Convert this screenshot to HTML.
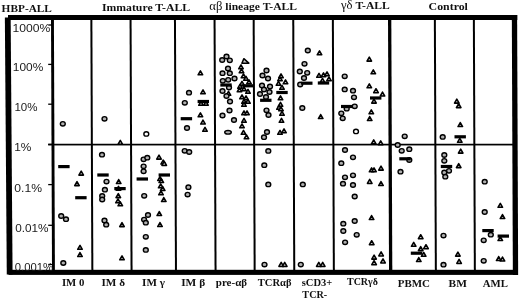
<!DOCTYPE html>
<html><head><meta charset="utf-8"><title>T-ALL chart</title>
<style>
html,body{margin:0;padding:0;background:#fff;}
body{width:520px;height:300px;overflow:hidden;}
svg{display:block;}
.hd{font-family:"Liberation Serif",serif;font-weight:bold;font-size:11px;fill:#111;}
.gr{font-weight:normal;font-size:12px;}
.yl{font-family:"Liberation Sans",sans-serif;font-size:10px;fill:#1a1a1a;}
.bl{font-family:"Liberation Serif",serif;font-weight:bold;font-size:10.3px;fill:#111;}
.c{fill:#b0b0b0;stroke:#000;stroke-width:1.4;}
.w{fill:#fff;stroke:#000;stroke-width:1.4;}
.t{fill:#c8c8c8;stroke:#000;stroke-width:1.55;stroke-linejoin:round;}
</style></head>
<body>
<svg width="520" height="300" viewBox="0 0 520 300">
<rect width="520" height="300" fill="#fff"/>
<g style="will-change:transform">
<rect x="8" y="15" width="509.3" height="5" fill="#000"/>
<rect x="8.5" y="269.8" width="509.3" height="5.1" fill="#000"/>
<polygon points="4.86,17.6 10.66,17.6 12.58,274.6 6.78,274.6" fill="#000"/>
<polygon points="511.82,15 517.12,15 518.16,274.9 512.86,274.9" fill="#000"/>
<polygon points="51.01,20 53.91,20 54.91,270 52.01,270" fill="#000"/>
<polygon points="90.36,20 92.36,20 93.36,270 91.36,270" fill="#000"/>
<polygon points="129.56,20 131.56,20 132.56,270 130.56,270" fill="#000"/>
<polygon points="173.96,20 175.96,20 176.96,270 174.96,270" fill="#000"/>
<polygon points="213.56,20 215.56,20 216.56,270 214.56,270" fill="#000"/>
<polygon points="252.66,20 254.66,20 255.66,270 253.66,270" fill="#000"/>
<polygon points="292.26,20 294.26,20 295.26,270 293.26,270" fill="#000"/>
<polygon points="331.86,20 333.86,20 334.86,270 332.86,270" fill="#000"/>
<polygon points="433.86,20 435.86,20 436.86,270 434.86,270" fill="#000"/>
<polygon points="472.86,20 474.86,20 475.86,270 473.86,270" fill="#000"/>
<polygon points="388.01,20 391.31,20 392.31,270 389.01,270" fill="#000"/>
<rect x="48.2" y="143.75" width="464.8" height="1.7" fill="#000"/>
<rect x="48.2" y="24.35" width="3.8" height="1.3" fill="#000"/>
<rect x="48.2" y="63.75" width="3.8" height="1.3" fill="#000"/>
<rect x="48.2" y="103.55" width="3.8" height="1.3" fill="#000"/>
<rect x="48.2" y="143.75" width="3.8" height="1.3" fill="#000"/>
<rect x="48.2" y="183.95" width="3.8" height="1.3" fill="#000"/>
<rect x="48.2" y="224.65" width="3.8" height="1.3" fill="#000"/>
<rect x="48.2" y="263.85" width="3.8" height="1.3" fill="#000"/>
<text x="1.63" y="11.7" class="hd" textLength="50.29" lengthAdjust="spacingAndGlyphs">HBP-ALL</text>
<text x="101.95" y="11" class="hd" textLength="88.19" lengthAdjust="spacingAndGlyphs">Immature T-ALL</text>
<text x="209.27" y="10.1" class="hd" textLength="87.71" lengthAdjust="spacingAndGlyphs"><tspan class="gr">&#945;&#946;</tspan> lineage T-ALL</text>
<text x="340.94" y="9.3" class="hd" textLength="48.87" lengthAdjust="spacingAndGlyphs"><tspan class="gr">&#947;&#948;</tspan> T-ALL</text>
<text x="428.64" y="9.5" class="hd" textLength="39.29" lengthAdjust="spacingAndGlyphs">Control</text>
<text x="12.62" y="31.7" class="yl" textLength="37.78" lengthAdjust="spacingAndGlyphs">1000%</text>
<text x="12.87" y="71.2" class="yl" textLength="30.37" lengthAdjust="spacingAndGlyphs">100%</text>
<text x="14.44" y="110.8" class="yl" textLength="23.06" lengthAdjust="spacingAndGlyphs">10%</text>
<text x="14.18" y="151.3" class="yl" textLength="17.15" lengthAdjust="spacingAndGlyphs">1%</text>
<text x="14.31" y="191.7" class="yl" textLength="27.68" lengthAdjust="spacingAndGlyphs">0.1%</text>
<text x="15.26" y="232.1" class="yl" textLength="33.28" lengthAdjust="spacingAndGlyphs">0.01%</text>
<text x="14.8" y="271.1" class="yl" textLength="38.28" lengthAdjust="spacingAndGlyphs">0.001%</text>
<text x="61.9" y="286.1" class="bl" textLength="22.49" lengthAdjust="spacingAndGlyphs">IM 0</text>
<text x="101.42" y="286" class="bl" textLength="23.59" lengthAdjust="spacingAndGlyphs">IM &#948;</text>
<text x="142.12" y="285.8" class="bl" textLength="22.81" lengthAdjust="spacingAndGlyphs">IM &#947;</text>
<text x="181.19" y="285.8" class="bl" textLength="23.99" lengthAdjust="spacingAndGlyphs">IM &#946;</text>
<text x="215.81" y="285.8" class="bl" textLength="31.3" lengthAdjust="spacingAndGlyphs">pre-&#945;&#946;</text>
<text x="257.82" y="285.8" class="bl" textLength="33.7" lengthAdjust="spacingAndGlyphs">TCR&#945;&#946;</text>
<text x="301.75" y="285.7" class="bl" textLength="30.52" lengthAdjust="spacingAndGlyphs">sCD3+</text>
<text x="302.37" y="297.8" class="bl" textLength="24.83" lengthAdjust="spacingAndGlyphs">TCR-</text>
<text x="347" y="285.3" class="bl" textLength="30.89" lengthAdjust="spacingAndGlyphs">TCR&#947;&#948;</text>
<text x="397.72" y="286.7" class="bl" textLength="32.33" lengthAdjust="spacingAndGlyphs">PBMC</text>
<text x="448.57" y="286.7" class="bl" textLength="18.33" lengthAdjust="spacingAndGlyphs">BM</text>
<text x="482.69" y="286.7" class="bl" textLength="25.18" lengthAdjust="spacingAndGlyphs">AML</text>
<polygon points="81.2,171.12 78.9,175.12 83.5,175.12" class="t"/>
<polygon points="77,181.62 74.7,185.62 79.3,185.62" class="t"/>
<polygon points="80,245.32 77.7,249.32 82.3,249.32" class="t"/>
<polygon points="80,252.52 77.7,256.52 82.3,256.52" class="t"/>
<polygon points="120.3,140.32 118,144.32 122.6,144.32" class="t"/>
<polygon points="118.7,179.52 116.4,183.52 121,183.52" class="t"/>
<polygon points="118.5,186.32 116.2,190.32 120.8,190.32" class="t"/>
<polygon points="118.3,193.62 116,197.62 120.6,197.62" class="t"/>
<polygon points="118,198.82 115.7,202.82 120.3,202.82" class="t"/>
<polygon points="120.3,201.82 118,205.82 122.6,205.82" class="t"/>
<polygon points="122,222.62 119.7,226.62 124.3,226.62" class="t"/>
<polygon points="122,255.82 119.7,259.82 124.3,259.82" class="t"/>
<polygon points="159,155.12 156.7,159.12 161.3,159.12" class="t"/>
<polygon points="163.2,160.02 160.9,164.02 165.5,164.02" class="t"/>
<polygon points="164.2,161.42 161.9,165.42 166.5,165.42" class="t"/>
<polygon points="160,176.52 157.7,180.52 162.3,180.52" class="t"/>
<polygon points="161.3,178.52 159,182.52 163.6,182.52" class="t"/>
<polygon points="160.7,183.82 158.4,187.82 163,187.82" class="t"/>
<polygon points="162.7,186.52 160.4,190.52 165,190.52" class="t"/>
<polygon points="161,190.82 158.7,194.82 163.3,194.82" class="t"/>
<polygon points="163.8,197.52 161.5,201.52 166.1,201.52" class="t"/>
<polygon points="159.3,211.52 157,215.52 161.6,215.52" class="t"/>
<polygon points="160,222.52 157.7,226.52 162.3,226.52" class="t"/>
<polygon points="200.4,70.82 198.1,74.82 202.7,74.82" class="t"/>
<polygon points="203,89.82 200.7,93.82 205.3,93.82" class="t"/>
<polygon points="201,101.32 198.7,105.32 203.3,105.32" class="t"/>
<polygon points="206,101.32 203.7,105.32 208.3,105.32" class="t"/>
<polygon points="200.4,112.82 198.1,116.82 202.7,116.82" class="t"/>
<polygon points="203,120.02 200.7,124.02 205.3,124.02" class="t"/>
<polygon points="205,127.32 202.7,131.32 207.3,131.32" class="t"/>
<polygon points="241,64.82 238.7,68.82 243.3,68.82" class="t"/>
<polygon points="241.5,68.82 239.2,72.82 243.8,72.82" class="t"/>
<polygon points="243.5,73.82 241.2,77.82 245.8,77.82" class="t"/>
<polygon points="246,76.32 243.7,80.32 248.3,80.32" class="t"/>
<polygon points="249,79.82 246.7,83.82 251.3,83.82" class="t"/>
<polygon points="242,81.32 239.7,85.32 244.3,85.32" class="t"/>
<polygon points="240,84.32 237.7,88.32 242.3,88.32" class="t"/>
<polygon points="239.5,87.82 237.2,91.82 241.8,91.82" class="t"/>
<polygon points="244,86.82 241.7,90.82 246.3,90.82" class="t"/>
<polygon points="248,89.32 245.7,93.32 250.3,93.32" class="t"/>
<polygon points="242,94.82 239.7,98.82 244.3,98.82" class="t"/>
<polygon points="246,95.82 243.7,99.82 248.3,99.82" class="t"/>
<polygon points="244,99.32 241.7,103.32 246.3,103.32" class="t"/>
<polygon points="248,99.32 245.7,103.32 250.3,103.32" class="t"/>
<polygon points="244,102.32 241.7,106.32 246.3,106.32" class="t"/>
<polygon points="244,110.82 241.7,114.82 246.3,114.82" class="t"/>
<polygon points="247,110.82 244.7,114.82 249.3,114.82" class="t"/>
<polygon points="244,118.32 241.7,122.32 246.3,122.32" class="t"/>
<polygon points="242,123.82 239.7,127.82 244.3,127.82" class="t"/>
<polygon points="243.5,130.32 241.2,134.32 245.8,134.32" class="t"/>
<polygon points="246.5,134.82 244.2,138.82 248.8,138.82" class="t"/>
<polygon points="228.5,91.32 226.2,95.32 230.8,95.32" class="t"/>
<polygon points="281,73.82 278.7,77.82 283.3,77.82" class="t"/>
<polygon points="280,76.82 277.7,80.82 282.3,80.82" class="t"/>
<polygon points="285.5,79.82 283.2,83.82 287.8,83.82" class="t"/>
<polygon points="280.5,102.32 278.2,106.32 282.8,106.32" class="t"/>
<polygon points="278.5,81.32 276.2,85.32 280.8,85.32" class="t"/>
<polygon points="282,85.32 279.7,89.32 284.3,89.32" class="t"/>
<polygon points="280.5,95.82 278.2,99.82 282.8,99.82" class="t"/>
<polygon points="279,105.32 276.7,109.32 281.3,109.32" class="t"/>
<polygon points="281,106.82 278.7,110.82 283.3,110.82" class="t"/>
<polygon points="282,111.32 279.7,115.32 284.3,115.32" class="t"/>
<polygon points="281.5,118.32 279.2,122.32 283.8,122.32" class="t"/>
<polygon points="284,128.82 281.7,132.82 286.3,132.82" class="t"/>
<polygon points="280,130.32 277.7,134.32 282.3,134.32" class="t"/>
<polygon points="281.2,262.42 278.9,266.42 283.5,266.42" class="t"/>
<polygon points="284.7,262.42 282.4,266.42 287,266.42" class="t"/>
<polygon points="319.5,50.82 317.2,54.82 321.8,54.82" class="t"/>
<polygon points="319,73.32 316.7,77.32 321.3,77.32" class="t"/>
<polygon points="323.5,72.82 321.2,76.82 325.8,76.82" class="t"/>
<polygon points="327,71.82 324.7,75.82 329.3,75.82" class="t"/>
<polygon points="329,76.82 326.7,80.82 331.3,80.82" class="t"/>
<polygon points="322.5,78.32 320.2,82.32 324.8,82.32" class="t"/>
<polygon points="320.7,114.52 318.4,118.52 323,118.52" class="t"/>
<polygon points="318.8,262.42 316.5,266.42 321.1,266.42" class="t"/>
<polygon points="322.7,262.42 320.4,266.42 325,266.42" class="t"/>
<polygon points="369.3,57.12 367,61.12 371.6,61.12" class="t"/>
<polygon points="373.3,69.82 371,73.82 375.6,73.82" class="t"/>
<polygon points="369.3,83.82 367,87.82 371.6,87.82" class="t"/>
<polygon points="376,88.72 373.7,92.72 378.3,92.72" class="t"/>
<polygon points="382.5,92.02 380.2,96.02 384.8,96.02" class="t"/>
<polygon points="374,99.12 371.7,103.12 376.3,103.12" class="t"/>
<polygon points="371.3,109.82 369,113.82 373.6,113.82" class="t"/>
<polygon points="369.7,116.52 367.4,120.52 372,120.52" class="t"/>
<polygon points="373.7,139.82 371.4,143.82 376,143.82" class="t"/>
<polygon points="380.7,140.82 378.4,144.82 383,144.82" class="t"/>
<polygon points="371.6,167.82 369.3,171.82 373.9,171.82" class="t"/>
<polygon points="374,167.82 371.7,171.82 376.3,171.82" class="t"/>
<polygon points="381,166.12 378.7,170.12 383.3,170.12" class="t"/>
<polygon points="369.7,179.42 367.4,183.42 372,183.42" class="t"/>
<polygon points="381,181.52 378.7,185.52 383.3,185.52" class="t"/>
<polygon points="371.6,215.52 369.3,219.52 373.9,219.52" class="t"/>
<polygon points="371.7,240.72 369.4,244.72 374,244.72" class="t"/>
<polygon points="381.1,251.92 378.8,255.92 383.4,255.92" class="t"/>
<polygon points="374.1,255.12 371.8,259.12 376.4,259.12" class="t"/>
<polygon points="383,258.92 380.7,262.92 385.3,262.92" class="t"/>
<polygon points="374.1,260.72 371.8,264.72 376.4,264.72" class="t"/>
<polygon points="420.7,234.72 418.4,238.72 423,238.72" class="t"/>
<polygon points="413.7,242.32 411.4,246.32 416,246.32" class="t"/>
<polygon points="420.7,246.62 418.4,250.62 423,250.62" class="t"/>
<polygon points="426,244.72 423.7,248.72 428.3,248.72" class="t"/>
<polygon points="423.7,252.32 421.4,256.32 426,256.32" class="t"/>
<polygon points="418.8,257.52 416.5,261.52 421.1,261.52" class="t"/>
<polygon points="456.8,99.12 454.5,103.12 459.1,103.12" class="t"/>
<polygon points="458.7,103.62 456.4,107.62 461,107.62" class="t"/>
<polygon points="460.3,122.52 458,126.52 462.6,126.52" class="t"/>
<polygon points="459.8,138.32 457.5,142.32 462.1,142.32" class="t"/>
<polygon points="460.7,149.12 458.4,153.12 463,153.12" class="t"/>
<polygon points="458.7,163.62 456.4,167.62 461,167.62" class="t"/>
<polygon points="457.9,252.12 455.6,256.12 460.2,256.12" class="t"/>
<polygon points="459.1,259.42 456.8,263.42 461.4,263.42" class="t"/>
<polygon points="500.3,203.32 498,207.32 502.6,207.32" class="t"/>
<polygon points="502.5,214.52 500.2,218.52 504.8,218.52" class="t"/>
<polygon points="500.3,236.52 498,240.52 502.6,240.52" class="t"/>
<polygon points="498.7,256.52 496.4,260.52 501,260.52" class="t"/>
<polygon points="502.5,257.02 500.2,261.02 504.8,261.02" class="t"/>
<polygon points="241.9,63.2 243.8,58.7 248.8,63.2" class="t"/>
<ellipse cx="62.8" cy="123.8" rx="2.45" ry="2.2" class="c"/>
<ellipse cx="61.2" cy="216" rx="2.45" ry="2.2" class="c"/>
<ellipse cx="66" cy="219.2" rx="2.45" ry="2.2" class="c"/>
<ellipse cx="63.3" cy="263" rx="2.45" ry="2.2" class="c"/>
<ellipse cx="104.5" cy="118.8" rx="2.45" ry="2.2" class="c"/>
<ellipse cx="102" cy="154.7" rx="2.45" ry="2.2" class="c"/>
<ellipse cx="106.5" cy="181.6" rx="2.45" ry="2.2" class="c"/>
<ellipse cx="104.9" cy="189.7" rx="2.45" ry="2.2" class="c"/>
<ellipse cx="102.2" cy="196" rx="2.45" ry="2.2" class="c"/>
<ellipse cx="102.2" cy="199.5" rx="2.45" ry="2.2" class="c"/>
<ellipse cx="104.5" cy="220.5" rx="2.45" ry="2.2" class="c"/>
<ellipse cx="106.2" cy="224.7" rx="2.45" ry="2.2" class="c"/>
<ellipse cx="143.6" cy="159.3" rx="2.45" ry="2.2" class="c"/>
<ellipse cx="147.3" cy="157.7" rx="2.45" ry="2.2" class="c"/>
<ellipse cx="143.6" cy="166.3" rx="2.45" ry="2.2" class="c"/>
<ellipse cx="143.6" cy="171.3" rx="2.45" ry="2.2" class="c"/>
<ellipse cx="144.2" cy="195.8" rx="2.45" ry="2.2" class="c"/>
<ellipse cx="148" cy="215" rx="2.45" ry="2.2" class="c"/>
<ellipse cx="144.1" cy="219.6" rx="2.45" ry="2.2" class="c"/>
<ellipse cx="145.8" cy="222.7" rx="2.45" ry="2.2" class="c"/>
<ellipse cx="145.8" cy="236.8" rx="2.45" ry="2.2" class="c"/>
<ellipse cx="145.8" cy="249.9" rx="2.45" ry="2.2" class="c"/>
<ellipse cx="189" cy="92.7" rx="2.45" ry="2.2" class="c"/>
<ellipse cx="184.8" cy="102.8" rx="2.45" ry="2.2" class="c"/>
<ellipse cx="187" cy="128" rx="2.45" ry="2.2" class="c"/>
<ellipse cx="184.7" cy="150.8" rx="2.45" ry="2.2" class="c"/>
<ellipse cx="189.2" cy="152" rx="2.45" ry="2.2" class="c"/>
<ellipse cx="188.4" cy="187.2" rx="2.45" ry="2.2" class="c"/>
<ellipse cx="187.6" cy="194.6" rx="2.45" ry="2.2" class="c"/>
<ellipse cx="226.5" cy="56.5" rx="2.45" ry="2.2" class="c"/>
<ellipse cx="222.2" cy="60" rx="2.45" ry="2.2" class="c"/>
<ellipse cx="229.8" cy="60.3" rx="2.45" ry="2.2" class="c"/>
<ellipse cx="228" cy="68.5" rx="2.45" ry="2.2" class="c"/>
<ellipse cx="222.5" cy="73.2" rx="2.45" ry="2.2" class="c"/>
<ellipse cx="229.8" cy="73.2" rx="2.45" ry="2.2" class="c"/>
<ellipse cx="234.5" cy="78.5" rx="2.45" ry="2.2" class="c"/>
<ellipse cx="228.2" cy="79.8" rx="2.45" ry="2.2" class="c"/>
<ellipse cx="222.8" cy="80.8" rx="2.45" ry="2.2" class="c"/>
<ellipse cx="229" cy="87.5" rx="2.45" ry="2.2" class="c"/>
<ellipse cx="222.5" cy="91" rx="2.45" ry="2.2" class="c"/>
<ellipse cx="226.5" cy="96" rx="2.45" ry="2.2" class="c"/>
<ellipse cx="230" cy="101.5" rx="2.45" ry="2.2" class="c"/>
<ellipse cx="229.5" cy="110.5" rx="2.45" ry="2.2" class="c"/>
<ellipse cx="222.5" cy="115.5" rx="2.45" ry="2.2" class="c"/>
<ellipse cx="234" cy="120" rx="2.45" ry="2.2" class="c"/>
<ellipse cx="266.5" cy="70.5" rx="2.45" ry="2.2" class="c"/>
<ellipse cx="262.5" cy="75.5" rx="2.45" ry="2.2" class="c"/>
<ellipse cx="268" cy="78.5" rx="2.45" ry="2.2" class="c"/>
<ellipse cx="262" cy="85.5" rx="2.45" ry="2.2" class="c"/>
<ellipse cx="270" cy="86.5" rx="2.45" ry="2.2" class="c"/>
<ellipse cx="264" cy="89.5" rx="2.45" ry="2.2" class="c"/>
<ellipse cx="269.5" cy="92" rx="2.45" ry="2.2" class="c"/>
<ellipse cx="260" cy="94" rx="2.45" ry="2.2" class="c"/>
<ellipse cx="266" cy="97" rx="2.45" ry="2.2" class="c"/>
<ellipse cx="266.5" cy="110.3" rx="2.45" ry="2.2" class="c"/>
<ellipse cx="268.5" cy="115" rx="2.45" ry="2.2" class="c"/>
<ellipse cx="267" cy="132" rx="2.45" ry="2.2" class="c"/>
<ellipse cx="264" cy="137.2" rx="2.45" ry="2.2" class="c"/>
<ellipse cx="268.3" cy="150.9" rx="2.45" ry="2.2" class="c"/>
<ellipse cx="264.3" cy="165.2" rx="2.45" ry="2.2" class="c"/>
<ellipse cx="268.3" cy="184.4" rx="2.45" ry="2.2" class="c"/>
<ellipse cx="264.5" cy="264.6" rx="2.45" ry="2.2" class="c"/>
<ellipse cx="307.8" cy="50.5" rx="2.45" ry="2.2" class="c"/>
<ellipse cx="304.5" cy="63.8" rx="2.45" ry="2.2" class="c"/>
<ellipse cx="299.8" cy="71.5" rx="2.45" ry="2.2" class="c"/>
<ellipse cx="307.2" cy="72.8" rx="2.45" ry="2.2" class="c"/>
<ellipse cx="304" cy="78" rx="2.45" ry="2.2" class="c"/>
<ellipse cx="300.2" cy="84.5" rx="2.45" ry="2.2" class="c"/>
<ellipse cx="302.3" cy="108" rx="2.45" ry="2.2" class="c"/>
<ellipse cx="302.8" cy="184.4" rx="2.45" ry="2.2" class="c"/>
<ellipse cx="300.8" cy="264.6" rx="2.45" ry="2.2" class="c"/>
<ellipse cx="344.7" cy="76.3" rx="2.45" ry="2.2" class="c"/>
<ellipse cx="344.7" cy="89.4" rx="2.45" ry="2.2" class="c"/>
<ellipse cx="353" cy="90.7" rx="2.45" ry="2.2" class="c"/>
<ellipse cx="354" cy="97.3" rx="2.45" ry="2.2" class="c"/>
<ellipse cx="346.7" cy="108.7" rx="2.45" ry="2.2" class="c"/>
<ellipse cx="354.7" cy="106.3" rx="2.45" ry="2.2" class="c"/>
<ellipse cx="341.3" cy="113.3" rx="2.45" ry="2.2" class="c"/>
<ellipse cx="342.7" cy="118.3" rx="2.45" ry="2.2" class="c"/>
<ellipse cx="345" cy="150" rx="2.45" ry="2.2" class="c"/>
<ellipse cx="353" cy="157.3" rx="2.45" ry="2.2" class="c"/>
<ellipse cx="341.3" cy="163.2" rx="2.45" ry="2.2" class="c"/>
<ellipse cx="353" cy="175.3" rx="2.45" ry="2.2" class="c"/>
<ellipse cx="345" cy="177.3" rx="2.45" ry="2.2" class="c"/>
<ellipse cx="343" cy="183.7" rx="2.45" ry="2.2" class="c"/>
<ellipse cx="353" cy="185" rx="2.45" ry="2.2" class="c"/>
<ellipse cx="354.7" cy="196.5" rx="2.45" ry="2.2" class="c"/>
<ellipse cx="354.7" cy="221" rx="2.45" ry="2.2" class="c"/>
<ellipse cx="343.3" cy="223.7" rx="2.45" ry="2.2" class="c"/>
<ellipse cx="343.3" cy="231" rx="2.45" ry="2.2" class="c"/>
<ellipse cx="356.7" cy="234.8" rx="2.45" ry="2.2" class="c"/>
<ellipse cx="345.1" cy="242.3" rx="2.45" ry="2.2" class="c"/>
<ellipse cx="404.7" cy="136.3" rx="2.45" ry="2.2" class="c"/>
<ellipse cx="397.7" cy="145" rx="2.45" ry="2.2" class="c"/>
<ellipse cx="401.7" cy="150.8" rx="2.45" ry="2.2" class="c"/>
<ellipse cx="409.3" cy="149.2" rx="2.45" ry="2.2" class="c"/>
<ellipse cx="409.3" cy="160" rx="2.45" ry="2.2" class="c"/>
<ellipse cx="400.5" cy="171.7" rx="2.45" ry="2.2" class="c"/>
<ellipse cx="442.7" cy="136.9" rx="2.45" ry="2.2" class="c"/>
<ellipse cx="444.3" cy="155" rx="2.45" ry="2.2" class="c"/>
<ellipse cx="444.3" cy="160.8" rx="2.45" ry="2.2" class="c"/>
<ellipse cx="449" cy="170.8" rx="2.45" ry="2.2" class="c"/>
<ellipse cx="444.3" cy="172.5" rx="2.45" ry="2.2" class="c"/>
<ellipse cx="445.3" cy="176.7" rx="2.45" ry="2.2" class="c"/>
<ellipse cx="443.5" cy="235.6" rx="2.45" ry="2.2" class="c"/>
<ellipse cx="443.5" cy="264.7" rx="2.45" ry="2.2" class="c"/>
<ellipse cx="484.7" cy="181.7" rx="2.45" ry="2.2" class="c"/>
<ellipse cx="484.7" cy="212" rx="2.45" ry="2.2" class="c"/>
<ellipse cx="490.8" cy="234.7" rx="2.45" ry="2.2" class="c"/>
<ellipse cx="483.7" cy="240.3" rx="2.45" ry="2.2" class="c"/>
<ellipse cx="483.7" cy="260.8" rx="2.45" ry="2.2" class="c"/>
<ellipse cx="228" cy="132.3" rx="3.3" ry="1.85" class="c"/>
<ellipse cx="146.3" cy="133.9" rx="2.45" ry="2.2" class="w"/>
<ellipse cx="356" cy="131.4" rx="2.45" ry="2.2" class="w"/>
<rect x="58.2" y="165" width="11.4" height="3.2" fill="#000"/>
<rect x="75.2" y="196.1" width="11.4" height="3.2" fill="#000"/>
<rect x="97.3" y="173.4" width="11.4" height="3.2" fill="#000"/>
<rect x="114.3" y="187" width="11.4" height="3.2" fill="#000"/>
<rect x="136.6" y="177.4" width="11.4" height="3.2" fill="#000"/>
<rect x="158.6" y="173.4" width="11.4" height="3.2" fill="#000"/>
<rect x="197.6" y="99.9" width="11.4" height="3.2" fill="#000"/>
<rect x="180.7" y="117.1" width="11.4" height="3.2" fill="#000"/>
<rect x="220.3" y="83.4" width="11.4" height="3.2" fill="#000"/>
<rect x="242.3" y="84.2" width="11.4" height="3.2" fill="#000"/>
<rect x="260.1" y="98.7" width="11.4" height="3.2" fill="#000"/>
<rect x="276.3" y="90.9" width="11.4" height="3.2" fill="#000"/>
<rect x="301.1" y="81.6" width="11.4" height="3.2" fill="#000"/>
<rect x="317.8" y="81.4" width="11.4" height="3.2" fill="#000"/>
<rect x="370" y="96.4" width="11.4" height="3.2" fill="#000"/>
<rect x="341" y="104.9" width="11.4" height="3.2" fill="#000"/>
<rect x="399.3" y="157.2" width="11.4" height="3.2" fill="#000"/>
<rect x="410.8" y="251.6" width="11.4" height="3.2" fill="#000"/>
<rect x="454.5" y="135.2" width="11.4" height="3.2" fill="#000"/>
<rect x="440.8" y="164.9" width="11.4" height="3.2" fill="#000"/>
<rect x="482.3" y="229" width="11.4" height="3.2" fill="#000"/>
<rect x="497.6" y="234.5" width="11.4" height="3.2" fill="#000"/>
</g>
</svg>
</body></html>
